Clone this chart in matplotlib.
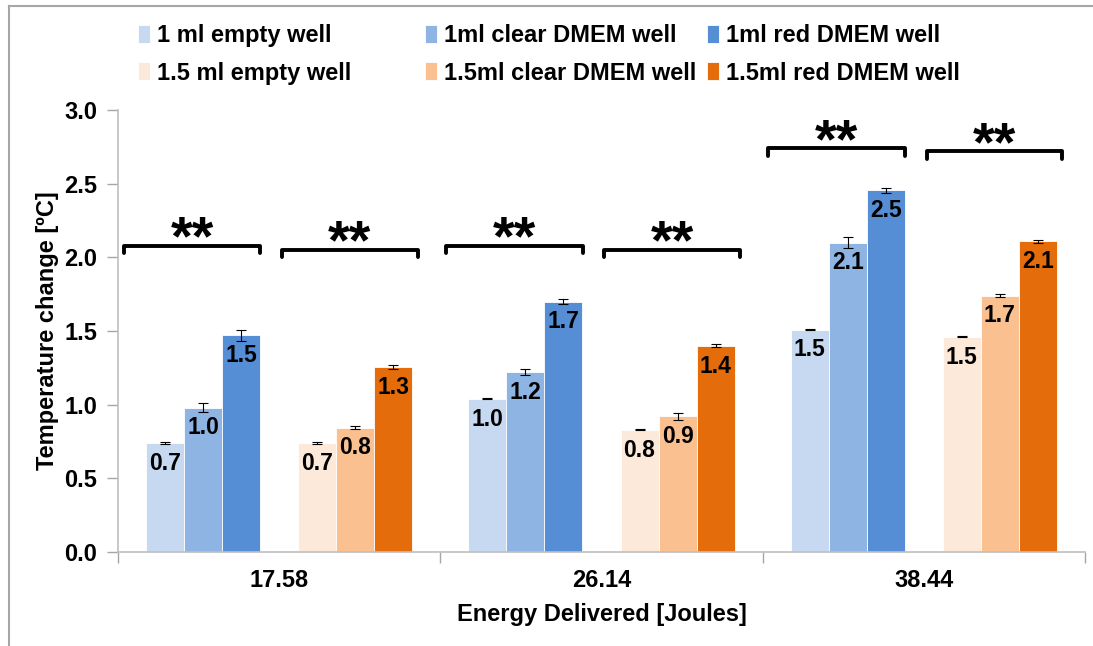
import numpy as np
import matplotlib.pyplot as plt
from matplotlib.lines import Line2D

plt.rcParams['font.family'] = ['Liberation Sans', 'DejaVu Sans']
plt.rcParams['font.weight'] = 'bold'

energies = ["17.58", "26.14", "38.44"]
series = ["1 ml empty well", "1ml clear DMEM well", "1ml red DMEM well",
          "1.5 ml empty well", "1.5ml clear DMEM well", "1.5ml red DMEM well"]
values = [
    [0.74, 1.04, 1.51],
    [0.98, 1.22, 2.10],
    [1.47, 1.70, 2.455],
    [0.74, 0.83, 1.46],
    [0.845, 0.92, 1.74],
    [1.255, 1.40, 2.11],
]
errors = [
    [0.004, 0.003, 0.004],
    [0.03, 0.02, 0.04],
    [0.035, 0.02, 0.015],
    [0.004, 0.003, 0.004],
    [0.01, 0.025, 0.01],
    [0.015, 0.01, 0.01],
]
colors = ["#C6D9F1", "#8EB4E3", "#558ED5", "#FDE9D9", "#FAC090", "#E46C0A"]
# significance brackets: (group, side, height)
brackets = [(0, "blue", 2.08), (0, "orange", 2.05),
            (1, "blue", 2.08), (1, "orange", 2.05),
            (2, "blue", 2.74), (2, "orange", 2.72)]

fig = plt.figure(figsize=(10.93, 6.46), dpi=100)
ax = fig.add_axes([118 / 1093, 1 - 552 / 646, (1085 - 118) / 1093, (552 - 110) / 646])

x = np.arange(len(energies))
w = 0.118
offsets = [-3, -2, -1, 1, 2, 3]
for i, name in enumerate(series):
    pos = x + offsets[i] * w
    ax.bar(pos, values[i], width=w, color=colors[i], edgecolor="white", linewidth=0.6,
           label=name, zorder=2)
    ax.errorbar(pos, values[i], yerr=errors[i], fmt="none", ecolor="black",
                elinewidth=0.8, capsize=3.5, capthick=0.8, zorder=3)
    for px, v in zip(pos, values[i]):
        ax.text(px, v - 0.06, f"{v:.1f}", ha="center", va="top",
                fontsize=16.5, fontweight="bold", zorder=4)

for g, side, h in brackets:
    if side == "blue":
        x0, x1 = g - 0.482, g - 0.058
    else:
        x0, x1 = g + 0.009, g + 0.430
    ax.plot([x0, x0, x1, x1], [h - 0.05, h, h, h - 0.05], color="black",
            lw=2.8, solid_capstyle="round", solid_joinstyle="round", zorder=4)
    ax.text((x0 + x1) / 2, h - 0.14, "**", ha="center", va="bottom",
            fontsize=40, fontweight="bold", zorder=4)

ax.set_xlim(-0.5, 2.5)
ax.set_ylim(0, 3.0)
ax.set_yticks(np.arange(0, 3.01, 0.5))
ax.set_yticklabels([f"{t:.1f}" for t in np.arange(0, 3.01, 0.5)], fontsize=17, fontweight="bold")
ax.set_xticks(x)
ax.set_xticklabels(energies, fontsize=17, fontweight="bold")
ax.tick_params(axis="x", length=0, pad=12)
ax.set_xticks([-0.5, 0.5, 1.5, 2.5], minor=True)
ax.tick_params(axis="x", which="minor", length=8, color="#A6A6A6", width=1)
ax.tick_params(axis="y", length=8, color="#A6A6A6", width=1, pad=7)

for s in ["top", "right"]:
    ax.spines[s].set_visible(False)
for s in ["left", "bottom"]:
    ax.spines[s].set_color("#BFBFBF")
    ax.spines[s].set_linewidth(1.2)

ax.set_xlabel("Energy Delivered [Joules]", fontsize=17, fontweight="bold", labelpad=8)
ax.set_ylabel("Temperature change [ºC]", fontsize=17, fontweight="bold", labelpad=4)

# legend: three columns, placed separately like Excel's equal-width columns
handles, labels = ax.get_legend_handles_labels()
col_x = [138 / 1093, 425 / 1093, 707 / 1093]
for c in range(3):
    idx = [c, c + 3]
    leg = fig.legend([handles[k] for k in idx], [labels[k] for k in idx],
                     loc="upper left", bbox_to_anchor=(col_x[c], 1 - 24 / 646),
                     frameon=False, handlelength=0.5, handleheight=0.8,
                     handletextpad=0.3, labelspacing=0.62, borderpad=0, borderaxespad=0,
                     prop={"weight": "bold", "size": 17})

# outer chart border (left and top)
fig.add_artist(Line2D([9 / 1093, 9 / 1093], [0, 1 - 6 / 646], color="#A6A6A6", lw=1.5,
                      transform=fig.transFigure))
fig.add_artist(Line2D([9 / 1093, 1], [1 - 6 / 646, 1 - 6 / 646], color="#A6A6A6", lw=1.5,
                      transform=fig.transFigure))

fig.savefig("out.png", dpi=100)
